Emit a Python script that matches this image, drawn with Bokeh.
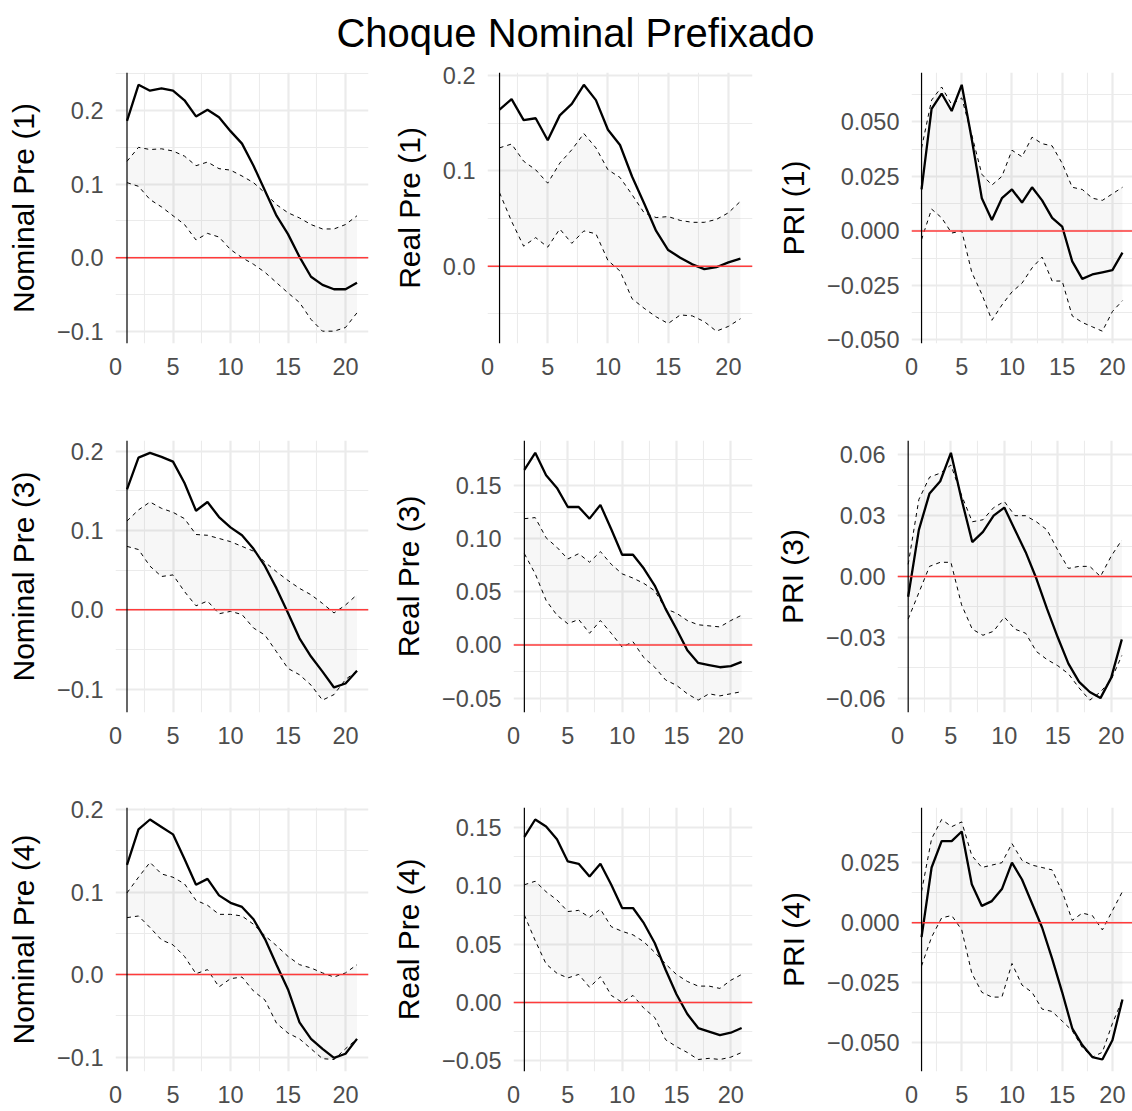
from bokeh.plotting import figure
from bokeh.layouts import column, row
from bokeh.models import FixedTicker, CustomJSTickFormatter, Span, Label, Range1d
from bokeh.embed import file_html
from bokeh.resources import INLINE

# ---------------- data ----------------
horizon = list(range(1, 22))

title_text = "Choque Nominal Prefixado"

nom1_irf = [0.186, 0.235, 0.227, 0.230, 0.227, 0.214, 0.192, 0.201, 0.191, 0.172, 0.155,
            0.125, 0.091, 0.057, 0.032, 0.001, -0.026, -0.037, -0.043, -0.043, -0.034]
nom1_lo = [0.102, 0.097, 0.079, 0.069, 0.057, 0.045, 0.024, 0.033, 0.028, 0.011, 0.000,
           -0.009, -0.020, -0.034, -0.048, -0.061, -0.084, -0.100, -0.100, -0.095, -0.075]
nom1_up = [0.131, 0.150, 0.147, 0.148, 0.145, 0.138, 0.125, 0.130, 0.121, 0.119, 0.111,
           0.102, 0.088, 0.072, 0.061, 0.054, 0.045, 0.039, 0.039, 0.045, 0.057]

real1_irf = [0.164, 0.175, 0.153, 0.155, 0.132, 0.158, 0.170, 0.190, 0.174, 0.143, 0.127,
             0.094, 0.066, 0.037, 0.017, 0.009, 0.002, -0.003, -0.001, 0.004, 0.008]
real1_lo = [0.077, 0.047, 0.021, 0.030, 0.020, 0.039, 0.024, 0.037, 0.034, 0.006, -0.005,
            -0.034, -0.044, -0.053, -0.060, -0.051, -0.052, -0.058, -0.068, -0.063, -0.055]
real1_up = [0.124, 0.128, 0.110, 0.101, 0.087, 0.108, 0.122, 0.139, 0.124, 0.101, 0.093,
            0.075, 0.056, 0.051, 0.052, 0.048, 0.046, 0.046, 0.049, 0.056, 0.068]

pri1_irf = [0.019, 0.056, 0.063, 0.055, 0.067, 0.042, 0.015, 0.005, 0.015, 0.019, 0.013,
            0.020, 0.014, 0.006, 0.002, -0.014, -0.022, -0.020, -0.019, -0.018, -0.010]
pri1_lo = [-0.004, 0.010, 0.006, -0.001, 0.000, -0.019, -0.029, -0.041, -0.034, -0.028, -0.024,
           -0.017, -0.012, -0.023, -0.023, -0.039, -0.042, -0.044, -0.046, -0.037, -0.032]
pri1_up = [0.038, 0.060, 0.066, 0.058, 0.061, 0.044, 0.026, 0.021, 0.025, 0.037, 0.034,
           0.043, 0.040, 0.039, 0.031, 0.020, 0.019, 0.015, 0.014, 0.017, 0.020]

nom3_irf = [0.152, 0.192, 0.198, 0.193, 0.187, 0.160, 0.125, 0.136, 0.117, 0.104, 0.094,
            0.077, 0.055, 0.027, -0.004, -0.036, -0.059, -0.078, -0.098, -0.093, -0.077]
nom3_lo = [0.080, 0.076, 0.055, 0.042, 0.044, 0.023, 0.005, 0.011, -0.005, -0.002, -0.006,
           -0.023, -0.032, -0.053, -0.074, -0.082, -0.095, -0.114, -0.107, -0.088, -0.077]
nom3_up = [0.112, 0.126, 0.136, 0.128, 0.123, 0.115, 0.095, 0.094, 0.090, 0.086, 0.080,
           0.074, 0.060, 0.048, 0.037, 0.027, 0.019, 0.008, -0.004, 0.006, 0.019]

real3_irf = [0.165, 0.181, 0.160, 0.148, 0.130, 0.130, 0.119, 0.132, 0.109, 0.085, 0.085,
             0.072, 0.056, 0.034, 0.015, -0.005, -0.017, -0.019, -0.021, -0.020, -0.016]
real3_lo = [0.086, 0.067, 0.042, 0.028, 0.020, 0.024, 0.011, 0.023, 0.011, -0.002, 0.003,
            -0.012, -0.021, -0.033, -0.038, -0.046, -0.052, -0.046, -0.048, -0.046, -0.044]
real3_up = [0.119, 0.120, 0.101, 0.092, 0.081, 0.086, 0.078, 0.088, 0.076, 0.067, 0.063,
            0.058, 0.051, 0.034, 0.030, 0.023, 0.019, 0.018, 0.017, 0.023, 0.028]

pri3_irf = [-0.010, 0.023, 0.041, 0.047, 0.061, 0.038, 0.017, 0.022, 0.030, 0.034, 0.023,
            0.012, -0.001, -0.016, -0.030, -0.043, -0.052, -0.057, -0.060, -0.050, -0.031]
pri3_lo = [-0.021, -0.008, 0.005, 0.007, 0.007, -0.014, -0.026, -0.029, -0.027, -0.020, -0.026,
           -0.028, -0.037, -0.041, -0.044, -0.048, -0.055, -0.061, -0.057, -0.051, -0.039]
pri3_up = [0.006, 0.038, 0.049, 0.051, 0.055, 0.040, 0.027, 0.028, 0.034, 0.037, 0.030,
           0.030, 0.027, 0.023, 0.013, 0.004, 0.005, 0.005, 0.000, 0.010, 0.018]

nom4_irf = [0.133, 0.176, 0.188, 0.179, 0.170, 0.140, 0.109, 0.116, 0.096, 0.087, 0.082,
            0.067, 0.043, 0.012, -0.018, -0.058, -0.078, -0.090, -0.101, -0.096, -0.078]
nom4_lo = [0.069, 0.071, 0.057, 0.042, 0.036, 0.022, 0.001, 0.006, -0.015, -0.005, -0.003,
           -0.020, -0.031, -0.059, -0.071, -0.078, -0.090, -0.102, -0.103, -0.090, -0.078]
nom4_up = [0.099, 0.118, 0.136, 0.122, 0.118, 0.110, 0.090, 0.084, 0.073, 0.073, 0.071,
           0.061, 0.047, 0.035, 0.022, 0.012, 0.008, 0.002, -0.003, 0.002, 0.012]

real4_irf = [0.142, 0.157, 0.151, 0.140, 0.121, 0.119, 0.108, 0.119, 0.101, 0.081, 0.081,
             0.068, 0.051, 0.028, 0.007, -0.010, -0.022, -0.025, -0.028, -0.026, -0.022]
real4_lo = [0.075, 0.053, 0.033, 0.025, 0.021, 0.024, 0.013, 0.022, 0.006, 0.000, 0.006,
            -0.005, -0.013, -0.032, -0.038, -0.043, -0.049, -0.048, -0.049, -0.047, -0.043]
real4_up = [0.101, 0.104, 0.095, 0.088, 0.078, 0.079, 0.073, 0.080, 0.065, 0.061, 0.058,
            0.052, 0.043, 0.033, 0.024, 0.018, 0.014, 0.014, 0.012, 0.019, 0.024]

pri4_irf = [-0.006, 0.023, 0.034, 0.034, 0.038, 0.016, 0.007, 0.009, 0.014, 0.025, 0.018,
            0.008, -0.002, -0.015, -0.029, -0.044, -0.051, -0.056, -0.057, -0.049, -0.032]
pri4_lo = [-0.018, -0.006, 0.002, 0.003, -0.003, -0.021, -0.029, -0.031, -0.031, -0.017, -0.026,
           -0.029, -0.036, -0.037, -0.041, -0.045, -0.052, -0.056, -0.054, -0.042, -0.032]
pri4_up = [0.013, 0.035, 0.043, 0.040, 0.042, 0.028, 0.023, 0.024, 0.025, 0.033, 0.026,
           0.024, 0.023, 0.022, 0.013, 0.001, 0.004, 0.003, -0.003, 0.005, 0.013]

# ticks and tick labels
x_ticks = [0, 5, 10, 15, 20]
x_tick_labels = ["0", "5", "10", "15", "20"]
x_minor = [2.5, 7.5, 12.5, 17.5]

tenth_ticks = [-0.1, 0.0, 0.1, 0.2]
tenth_labels = ["\u22120.1", "0.0", "0.1", "0.2"]
tenth_minor = [-0.15, -0.05, 0.05, 0.15, 0.25]

twentieth_ticks = [-0.05, 0.0, 0.05, 0.10, 0.15]
twentieth_labels = ["\u22120.05", "0.00", "0.05", "0.10", "0.15"]
twentieth_minor = [-0.075, -0.025, 0.025, 0.075, 0.125, 0.175]

quarter_ticks = [-0.05, -0.025, 0.0, 0.025, 0.05]
quarter_labels = ["\u22120.050", "\u22120.025", "0.000", "0.025", "0.050"]
quarter_minor = [-0.0375, -0.0125, 0.0125, 0.0375, 0.0625]

thirty_ticks = [-0.06, -0.03, 0.0, 0.03, 0.06]
thirty_labels = ["\u22120.06", "\u22120.03", "0.00", "0.03", "0.06"]
thirty_minor = [-0.045, -0.015, 0.015, 0.045]

y_titles = [["Nominal Pre (1)", "Real Pre (1)", "PRI (1)"],
            ["Nominal Pre (3)", "Real Pre (3)", "PRI (3)"],
            ["Nominal Pre (4)", "Real Pre (4)", "PRI (4)"]]

series = [[(nom1_irf, nom1_lo, nom1_up), (real1_irf, real1_lo, real1_up), (pri1_irf, pri1_lo, pri1_up)],
          [(nom3_irf, nom3_lo, nom3_up), (real3_irf, real3_lo, real3_up), (pri3_irf, pri3_lo, pri3_up)],
          [(nom4_irf, nom4_lo, nom4_up), (real4_irf, real4_lo, real4_up), (pri4_irf, pri4_lo, pri4_up)]]

y_axes = [[(tenth_ticks, tenth_labels, tenth_minor), (tenth_ticks, tenth_labels, tenth_minor),
           (quarter_ticks, quarter_labels, quarter_minor)],
          [(tenth_ticks, tenth_labels, tenth_minor), (twentieth_ticks, twentieth_labels, twentieth_minor),
           (thirty_ticks, thirty_labels, thirty_minor)],
          [(tenth_ticks, tenth_labels, tenth_minor), (twentieth_ticks, twentieth_labels, twentieth_minor),
           (quarter_ticks, quarter_labels, quarter_minor)]]

# ---------------- layout / style ----------------
FONT = "Liberation Sans"
col_widths = [377, 378, 377]
right_borders = [9, 3, 0]
left_borders = [[115, 110, 156], [115, 136, 142], [115, 136, 156]]
row_heights = [368, 367, 316]
top_border = 12
bottom_borders = [85, 83, 40]
TITLE_W, TITLE_H = 1132, 60

JS = """
const i = tvals.findIndex(t => Math.abs(t - tick) < 1e-9);
return i >= 0 ? tlabs[i] : "";
"""


def fmt(tv, tl):
    return CustomJSTickFormatter(args=dict(tvals=tv, tlabs=tl), code=JS)


def panel(r, c):
    irf, lo, up = series[r][c]
    yt, yl, ym = y_axes[r][c]
    allv = irf + lo + up
    y0, y1 = min(allv), max(allv)
    ypad = 0.05 * (y1 - y0)
    x0, x1 = min(horizon), max(horizon)
    xpad = 0.05 * (x1 - x0)
    p = figure(width=col_widths[c], height=row_heights[r],
               x_range=(x0 - xpad, x1 + xpad), y_range=(y0 - ypad, y1 + ypad),
               output_backend="svg", toolbar_location=None,
               min_border_left=left_borders[r][c], min_border_right=right_borders[c],
               min_border_top=top_border, min_border_bottom=bottom_borders[r])
    p.outline_line_color = None
    p.background_fill_color = "white"
    p.border_fill_color = "white"

    p.xaxis.ticker = FixedTicker(ticks=x_ticks, minor_ticks=x_minor)
    p.xaxis.formatter = fmt(x_ticks, x_tick_labels)
    p.yaxis.ticker = FixedTicker(ticks=yt, minor_ticks=ym)
    p.yaxis.formatter = fmt(yt, yl)
    p.yaxis.axis_label = y_titles[r][c]

    for ax in (p.xaxis, p.yaxis):
        ax.axis_line_color = None
        ax.major_tick_line_color = None
        ax.minor_tick_line_color = None
        ax.major_tick_out = 0
        ax.minor_tick_out = 0
        ax.major_tick_in = 0
        ax.major_label_text_font = FONT
        ax.major_label_text_font_size = "23.5px"
        ax.major_label_text_color = "#4D4D4D"
        ax.axis_label_text_font = FONT
        ax.axis_label_text_font_size = "30px"
        ax.axis_label_text_font_style = "normal"
        ax.axis_label_text_color = "black"
    p.xaxis.major_label_standoff = 14
    p.yaxis.major_label_standoff = 12
    p.yaxis.axis_label_standoff = 14

    for g in (p.xgrid, p.ygrid):
        g.grid_line_color = "#EBEBEB"
        g.grid_line_width = 2.2
        g.minor_grid_line_color = "#EBEBEB"
        g.minor_grid_line_width = 1.1

    p.varea(x=horizon, y1=lo, y2=up, fill_color="#7F7F7F", fill_alpha=0.06)
    p.line(horizon, lo, line_color="black", line_width=1, line_dash="4 4")
    p.line(horizon, up, line_color="black", line_width=1, line_dash="4 4")
    p.line(horizon, irf, line_color="black", line_width=2.3)
    p.add_layout(Span(location=0, dimension="width", line_color="#FF3B3B", line_width=1.5))
    p.add_layout(Span(location=horizon[0], dimension="height", line_color="black", line_width=1.2))
    return p


tp = figure(width=TITLE_W, height=TITLE_H, x_range=Range1d(0, TITLE_W), y_range=Range1d(0, TITLE_H),
            output_backend="svg", toolbar_location=None, min_border=0,
            x_axis_location=None, y_axis_location=None)
tp.outline_line_color = None
tp.grid.visible = False
tp.add_layout(Label(x=575, y=28, text=title_text,
                    text_align="center", text_baseline="middle", text_font=FONT,
                    text_font_size="40px", text_color="black"))

rows = [row(*[panel(r, c) for c in range(3)]) for r in range(3)]
layout = column(tp, *rows)

open("out.html", "w").write(file_html(layout, INLINE))
